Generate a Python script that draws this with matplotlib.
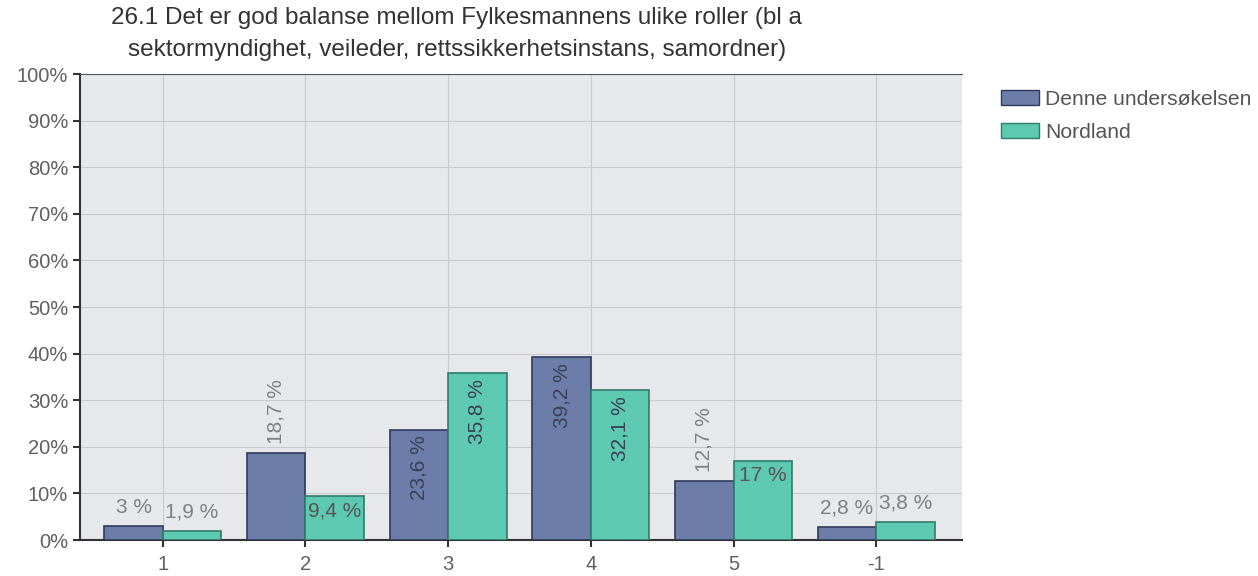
import numpy as np
import matplotlib.pyplot as plt
from matplotlib.patches import Patch

categories = ["1", "2", "3", "4", "5", "-1"]
denne = [3, 18.7, 23.6, 39.2, 12.7, 2.8]
nordland = [1.9, 9.4, 35.8, 32.1, 17, 3.8]
denne_labels = ["3 %", "18,7 %", "23,6 %", "39,2 %", "12,7 %", "2,8 %"]
nordland_labels = ["1,9 %", "9,4 %", "35,8 %", "32,1 %", "17 %", "3,8 %"]
# label mode: 'ha' horizontal above, 'ra' rotated above, 'hi' horizontal inside, 'ri' rotated inside
denne_modes = ["ha", "ra", "ri", "ri", "ra", "ha"]
nordland_modes = ["ha", "hi", "ri", "ri", "hi", "ha"]

title = ("26.1 Det er god balanse mellom Fylkesmannens ulike roller (bl a\n"
         "sektormyndighet, veileder, rettssikkerhetsinstans, samordner)")

plt.rcParams['font.family'] = ['Liberation Sans', 'DejaVu Sans']
txt = "#555555"

fig = plt.figure(figsize=(12.58, 5.76), dpi=100)
ax = fig.add_axes([0.0636, 0.0625, 0.701, 0.809])
ax.set_facecolor("#e6e8ec")

x = np.arange(len(categories))
w = 0.41
b1 = ax.bar(x - w / 2, denne, w, color="#6d7daa", edgecolor="#2f3a5a", linewidth=1.2, zorder=3)
b2 = ax.bar(x + w / 2, nordland, w, color="#5ec9b1", edgecolor="#2f7a6a", linewidth=1.2, zorder=3)


def label(bars, vals, labels, modes):
    for bar, v, lab, m in zip(bars, vals, labels, modes):
        cx = bar.get_x() + bar.get_width() / 2
        if m == "ha":
            ax.text(cx, v + 2.0, lab, ha="center", va="bottom", color="#808080", fontsize=15, zorder=4)
        elif m == "ra":
            ax.text(cx, v + 2.0, lab, ha="center", va="bottom", rotation=90, color="#808080", fontsize=15, zorder=4)
        elif m == "hi":
            ax.text(cx, v - 1.2, lab, ha="center", va="top", color="#555555", fontsize=15, zorder=4)
        else:
            ax.text(cx, v - 1.2, lab, ha="center", va="top", rotation=90, color="#3a3f55", fontsize=15, zorder=4)


label(b1, denne, denne_labels, denne_modes)
label(b2, nordland, nordland_labels, nordland_modes)

ax.set_xlim(-0.58, len(categories) - 1 + 0.6)
ax.set_ylim(0, 100)
ax.set_xticks(x)
ax.set_xticklabels(categories)
ax.set_yticks(range(0, 101, 10))
ax.set_yticklabels([f"{v}%" for v in range(0, 101, 10)])
ax.tick_params(colors="#333333", labelcolor="#606060", labelsize=14.5, length=5, width=1.5)
ax.tick_params(axis="x", pad=6)
ax.grid(True, color="#c8cacd", linewidth=0.8, zorder=0)
ax.spines["right"].set_visible(False)
ax.spines["top"].set_color("#555555")
ax.spines["left"].set_color("#333333")
ax.spines["left"].set_linewidth(1.5)
ax.spines["bottom"].set_color("#333333")
ax.spines["bottom"].set_linewidth(1.5)

fig.text(0.363, 0.988, title, ha="center", va="top", fontsize=17.5, color="#333333",
         linespacing=1.6)

handles = [Patch(facecolor="#6d7daa", edgecolor="#2f3a5a", label="Denne undersøkelsen"),
           Patch(facecolor="#5ec9b1", edgecolor="#2f7a6a", label="Nordland")]
fig.legend(handles=handles, loc="upper left", bbox_to_anchor=(0.782, 0.873), frameon=False,
           fontsize=15.2, labelcolor=txt, handlelength=1.8, handleheight=0.7, handletextpad=0.3,
           labelspacing=0.65, borderpad=0.3)

fig.savefig("out.png")
